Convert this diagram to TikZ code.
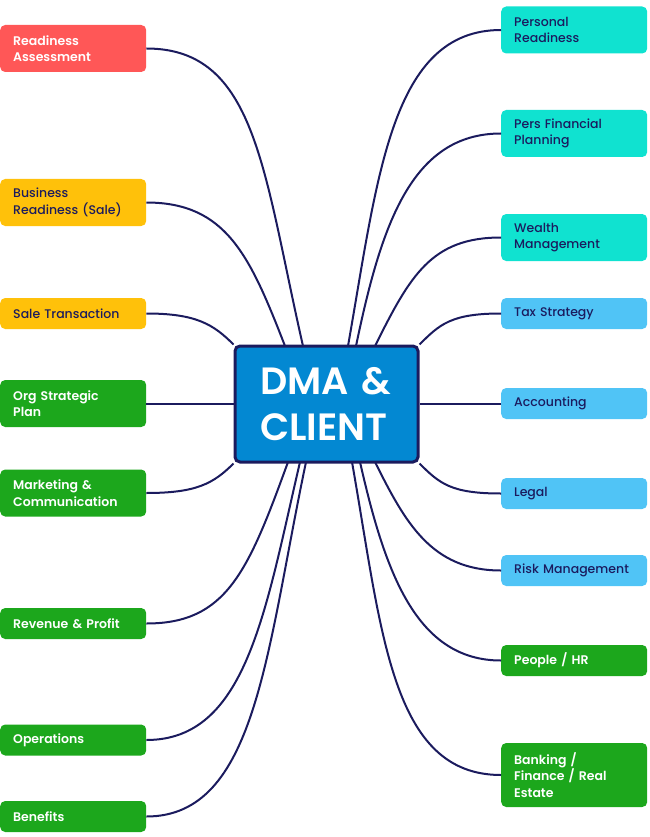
\documentclass[tikz,border=0pt]{standalone}
\usepackage{fontspec}
\setmainfont{Poppins}
\newfontfamily\medf{Poppins Medium}
\newfontfamily\semif{Poppins SemiBold}
\definecolor{navy}{HTML}{1B1B5E}
\definecolor{cred}{HTML}{FF5757}
\definecolor{cyel}{HTML}{FFC10A}
\definecolor{cgrn}{HTML}{1CA71C}
\definecolor{cteal}{HTML}{10E2D0}
\definecolor{clblu}{HTML}{50C4F6}
\definecolor{cmain}{HTML}{0388D2}
\tikzset{
  box/.style={rounded corners=5pt, minimum width=146pt, text width=120pt,
    inner xsep=13pt, inner ysep=0pt, align=left, anchor=west,
    font=\fontsize{12.5}{16.5}\selectfont},
  lightbox/.style={box, text=navy, font=\medf\fontsize{12.5}{16.5}\selectfont},
  darkbox/.style={box, text=white, font=\semif\fontsize{12.5}{16.5}\selectfont},
  hA/.style={minimum height=47pt},
  hB/.style={minimum height=31pt},
  hC/.style={minimum height=64pt},
  link/.style={draw=navy, line width=2pt},
}
\begin{document}
\begin{tikzpicture}[x=1pt,y=-1pt]
\useasboundingbox (0,0) rectangle (649,837);
% central
\node[draw=navy, line width=3pt, fill=cmain, rounded corners=5pt,
  minimum width=183pt, minimum height=116pt, text=white, align=left,
  text width=133pt, inner xsep=25pt,
  font=\semif\fontsize{38}{46}\selectfont] (c) at (326.5,404) {DMA \&\\CLIENT};
% left boxes
\node[darkbox,hA,fill=cred] (ra) at (0,48.5) {Readiness\\Assessment};
\node[lightbox,hA,fill=cyel] (br) at (0,202.5) {Business\\Readiness~(Sale)};
\node[lightbox,hB,fill=cyel] (st) at (0,313.5) {Sale Transaction};
\node[darkbox,hA,fill=cgrn] (os) at (0,403.5) {Org Strategic\\Plan};
\node[darkbox,hA,fill=cgrn] (mc) at (0,493) {Marketing \&\\Communication};
\node[darkbox,hB,fill=cgrn] (rp) at (0,623.5) {Revenue \& Profit};
\node[darkbox,hB,fill=cgrn] (op) at (0,740) {Operations};
\node[darkbox,hB,fill=cgrn] (be) at (0,816.5) {Benefits};
% right boxes
\node[lightbox,hA,fill=cteal] (pr) at (501,30) {Personal\\Readiness};
\node[lightbox,hA,fill=cteal] (pf) at (501,133.5) {Pers Financial\\Planning};
\node[lightbox,hA,fill=cteal] (wm) at (501,237.5) {Wealth\\Management};
\node[lightbox,hB,fill=clblu] (ts) at (501,313.5) {Tax Strategy};
\node[lightbox,hB,fill=clblu] (ac) at (501,403.5) {Accounting};
\node[lightbox,hB,fill=clblu] (lg) at (501,493.5) {Legal};
\node[lightbox,hB,fill=clblu] (rm) at (501,570.5) {Risk Management};
\node[darkbox,hB,fill=cgrn] (pe) at (501,660.5) {People / HR};
\node[darkbox,hC,fill=cgrn] (bk) at (501,775) {Banking /\\Finance / Real\\Estate};
% end points on central box
\coordinate (t1) at (285,346);
\coordinate (t2) at (303,346);
\coordinate (t3) at (348,346);
\coordinate (t4) at (356,346);
\coordinate (t5) at (375,346);
\coordinate (b1) at (288,462);
\coordinate (b2) at (300,462);
\coordinate (b3) at (306,462);
\coordinate (b4) at (352,462);
\coordinate (b5) at (360,462);
\coordinate (b6) at (375,462);
% left links
\draw[link] (ra.east) .. controls +(110,0) and +(-40,-175) .. (t2);
\draw[link] (br.east) .. controls +(80,0) and +(-35,-90) .. (t1);
\draw[link] (st.east) .. controls +(50,0) and +(-20,-20) .. (c.north west);
\draw[link] (os.east) -- (os.east -| c.west);
\draw[link] (mc.east) .. controls +(50,0) and +(-20,20) .. (c.south west);
\draw[link] (rp.east) .. controls +(80,0) and +(-40,110) .. (b1);
\draw[link] (op.east) .. controls +(100,0) and +(-35,150) .. (b2);
\draw[link] (be.east) .. controls +(110,0) and +(-40,190) .. (b3);
% right links
\draw[link] (pr.west) .. controls +(-110,0) and +(30,-170) .. (t3);
\draw[link] (pf.west) .. controls +(-90,0) and +(25,-120) .. (t4);
\draw[link] (wm.west) .. controls +(-70,0) and +(35,-70) .. (t5);
\draw[link] (ts.west) .. controls +(-50,0) and +(20,-20) .. (c.north east);
\draw[link] (ac.west) -- (ac.west -| c.east);
\draw[link] (lg.west) .. controls +(-50,0) and +(20,20) .. (c.south east);
\draw[link] (rm.west) .. controls +(-70,0) and +(30,60) .. (b6);
\draw[link] (pe.west) .. controls +(-85,0) and +(25,110) .. (b5);
\draw[link] (bk.west) .. controls +(-110,0) and +(30,170) .. (b4);
\end{tikzpicture}
\end{document}
